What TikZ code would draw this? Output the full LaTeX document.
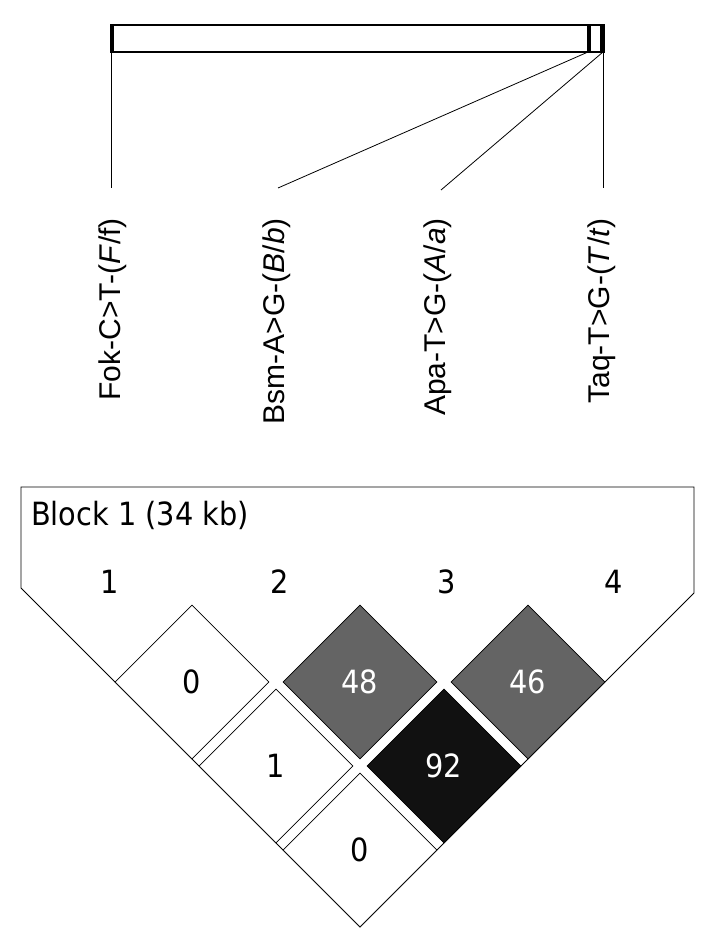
\documentclass[tikz,border=0pt]{standalone}
\usepackage{fontspec}
\setmainfont{DejaVu Sans Condensed}
\newfontfamily\arialfont{Liberation Sans}
\usetikzlibrary{shapes.geometric}
\definecolor{ldgray}{HTML}{646464}
\definecolor{ldblack}{HTML}{111111}

\begin{document}
\begin{tikzpicture}[x=1pt,y=-1pt,
  snp/.style={rotate=90,anchor=east,inner sep=0pt,font=\arialfont\fontsize{30}{31}\selectfont},
  num/.style={anchor=base,inner sep=0pt,font=\fontsize{32}{33}\selectfont},
  ld/.style={diamond,draw,line width=0.8pt,aspect=1,minimum width=154pt,minimum height=154pt,inner sep=0pt,font=\fontsize{32}{33}\selectfont},
  mid/.style={fill=ldgray,text=white},
  high/.style={fill=ldblack,text=white}]

\useasboundingbox (0,0) rectangle (712,945);

% gene bar
\draw[line width=1.2pt] (111,25) rectangle (604,52);
\draw[line width=3pt] (112,25) -- (112,52);
\fill (587,25) rectangle (591,52);
\fill (600,25) rectangle (604,52);
\coordinate (g1) at (111,52);
\coordinate (g2) at (588,52);
\coordinate (g3) at (603,52);

% snp labels
\node[snp] (fok) at (113,218) {Fok-C>T-(\textit{F}/f)};
\node[snp] (bsm) at (277,218) {Bsm-A>G-(\textit{B}/\textit{b})};
\node[snp] (apa) at (438,218) {Apa-T>G-(\textit{A}/\textit{a})};
\node[snp] (taq) at (602,218) {Taq-T>G-(\textit{T}/\textit{t})};
\coordinate (s1) at (111,188);
\coordinate (s2) at (278,188);
\coordinate (s3) at (441,190);
\coordinate (s4) at (603,188);

\draw[line width=0.8pt] (g1) -- (s1);
\draw[line width=0.8pt] (g2) -- (s2);
\draw[line width=0.8pt] (g3) -- (s3);
\draw[line width=0.8pt] (g3) -- (s4);

% LD block outline
\draw[line width=0.8pt] (21,487) -- (694,487) -- (694,593) -- (360,927) -- (21,588) -- cycle;
\node[anchor=base west,inner sep=0pt,font=\fontsize{32}{33}\selectfont] (blk) at (31,525) {Block 1 (34 kb)};

\node[num] (m1) at (110,593) {1};
\node[num] (m2) at (280,593) {2};
\node[num] (m3) at (447,593) {3};
\node[num] (m4) at (614,593) {4};

% pairwise D'
\node[ld,fill=white] (d12) at (192,682) {0};
\node[ld,mid] (d23) at (360,682) {48};
\node[ld,mid] (d34) at (528,682) {46};
\node[ld,fill=white] (d13) at (276,766) {1};
\node[ld,high] (d24) at (444,766) {92};
\node[ld,fill=white] (d14) at (360,850) {0};

\end{tikzpicture}
\end{document}
